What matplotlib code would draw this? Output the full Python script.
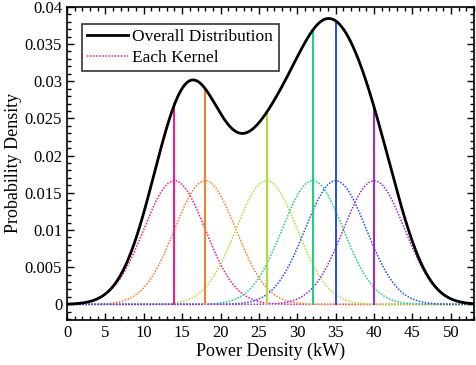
import numpy as np
import matplotlib.pyplot as plt
from matplotlib.ticker import MultipleLocator

plt.rcParams['font.family'] = ['Liberation Serif', 'DejaVu Serif']
plt.rcParams['mathtext.fontset'] = 'stix'

# kernel centres (kW), bandwidth and colours
centers = [14, 18, 26, 32, 35, 40]
bandwidth = 4.0
kernel_colors = ['#ff0f8c', '#ff7a1f', '#a6e22a', '#10d47c', '#1f4cff', '#a21fdc']

x = np.linspace(0, 53, 600)


def kernel(xx, c):
    return np.exp(-0.5 * ((xx - c) / bandwidth) ** 2) / (bandwidth * np.sqrt(2 * np.pi) * len(centers))


overall = sum(kernel(x, c) for c in centers)

fig = plt.figure(figsize=(4.77, 3.65), dpi=100)
ax = fig.add_axes([0.1405, 0.1233, 0.853, 0.858])

for c, col in zip(centers, kernel_colors):
    ax.plot(x, kernel(x, c), color=col, linestyle=(0, (1, 1)), linewidth=1.1)

for c, col in zip(centers, kernel_colors):
    top = sum(kernel(c, cc) for cc in centers)
    ax.plot([c, c], [0, top], color=col, linewidth=1.4)

ax.plot(x, overall, color='black', linewidth=2, label='Overall Distribution')
ax.plot([], [], color=kernel_colors[0], linestyle=(0, (1, 1)), linewidth=1.1, label='Each Kernel')

ax.set_xlim(0, 53)
ax.set_ylim(-0.0021, 0.04)
ax.xaxis.set_major_locator(MultipleLocator(5))
ax.xaxis.set_minor_locator(MultipleLocator(1))
ax.yaxis.set_minor_locator(MultipleLocator(0.001))
ax.set_yticks([0, 0.005, 0.01, 0.015, 0.02, 0.025, 0.03, 0.035, 0.04])
ax.set_yticklabels(['0', '0.005', '0.01', '0.015', '0.02', '0.025', '0.03', '0.035', '0.04'])
ax.tick_params(which='both', direction='in', top=True, right=True, labelsize=12)
ax.tick_params(which='major', length=5, width=1)
ax.tick_params(which='minor', length=3, width=1)
for s in ax.spines.values():
    s.set_linewidth(1.2)

ax.set_xlabel('Power Density (kW)', fontsize=13, labelpad=1)
ax.set_ylabel('Probability Density', fontsize=13, labelpad=2)

leg = ax.legend(loc='upper left', fontsize=12.5, frameon=True, fancybox=False,
                edgecolor='black', handlelength=2.35, borderpad=0.3,
                labelspacing=0.25, handletextpad=0.25, borderaxespad=0,
                bbox_to_anchor=(0.037, 0.946))
leg.get_frame().set_linewidth(1.2)

fig.savefig('out.png', dpi=100)
